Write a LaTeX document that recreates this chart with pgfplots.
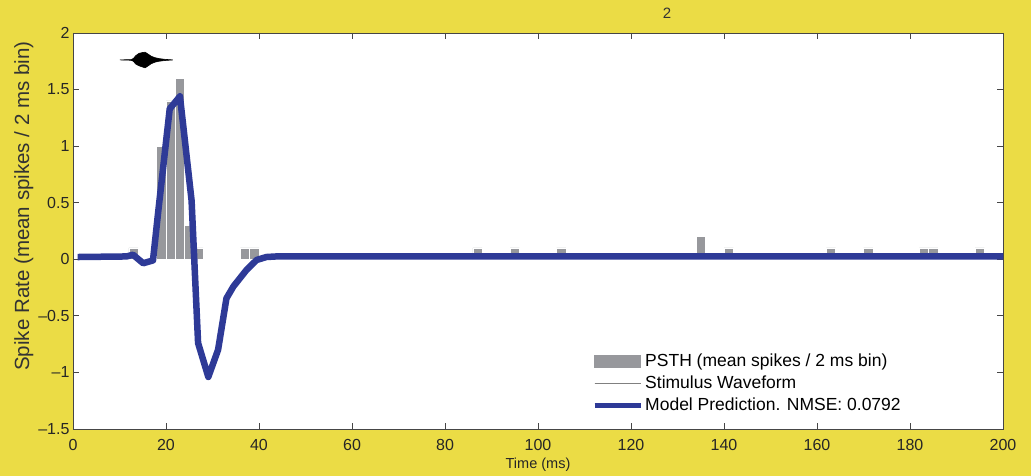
\documentclass[border=0pt]{standalone}
\usepackage{pgfplots}
\pgfplotsset{compat=1.18}
\usepackage{fontspec}
\setmainfont{Liberation Sans}
\definecolor{bgyellow}{RGB}{235,220,69}
\definecolor{bargray}{RGB}{151,152,156}
\definecolor{modelblue}{RGB}{46,58,151}
\definecolor{axgray}{RGB}{70,70,70}
\begin{document}
\begin{tikzpicture}[x=1pt,y=1pt]
\fill[bgyellow] (0,0) rectangle (1031,476);
\begin{axis}[
  at={(73pt,47pt)}, anchor=south west,
  scale only axis, width=930pt, height=396pt,
  xmin=0, xmax=200, ymin=-1.5, ymax=2,
  axis background/.style={fill=white},
  axis line style={axgray, line width=0.9pt},
  tick align=inside, major tick length=6pt,
  tick style={axgray, line width=0.8pt},
  xtick={0,20,...,200},
  ytick={-1.5,-1,-0.5,0,0.5,1,1.5,2},
  yticklabels={--1.5,--1,--0.5,0,0.5,1,1.5,2},
  xtick pos=both, ytick pos=both,
  /pgf/number format/assume math mode=true,
  tick label style={font=\fontsize{16}{19}\selectfont, text=black!85},
  every x tick label/.append style={anchor=north, yshift=-7pt},
  xlabel={Time (ms)},
  xlabel style={font=\fontsize{14.5}{17}\selectfont, at={(axis description cs:0.5,-0.091)}, anchor=center, text=black!85},
  ylabel={Spike Rate (mean spikes / 2 ms bin)},
  ylabel style={font=\fontsize{20.5}{24}\selectfont, at={(axis description cs:-0.053,0.563)}, anchor=center, rotate=0, text=black!80},
  legend style={at={(0.557,0.198)}, anchor=north west, draw=none, fill=white,
    font=\fontsize{17.5}{21}\selectfont, row sep=4pt, inner sep=1pt,
    cells={anchor=west}},
  legend cell align=left,
]
\addplot[ybar, bar width=2, fill=bargray, draw=white, line width=0.6pt,
  legend image code/.code={\fill[bargray] (0pt,-6pt) rectangle (46pt,6pt);}]
  coordinates {
  (13,0.1) (19,1.0) (21,1.4) (23,1.6) (25,0.3) (27,0.1) (37,0.1) (39,0.1)
  (87,0.1) (95,0.1) (105,0.1) (135,0.2) (141,0.1) (163,0.1) (171,0.1)
  (183,0.1) (185,0.1) (195,0.1)
  };
\addlegendentry{PSTH (mean spikes / 2 ms bin)}
\addplot[fill=black, draw=black, line width=0.6pt,
  legend image code/.code={\draw[gray, line width=0.8pt] (0pt,0pt) -- (46pt,0pt);}]
  coordinates {
  (10.1,1.762) (12.5,1.765) (13.0,1.775) (13.5,1.80) (14.2,1.82) (14.9,1.827) (15.5,1.83)
  (16.1,1.815) (16.8,1.795) (17.6,1.782) (18.6,1.773) (19.8,1.767) (21.5,1.762)
  (19.8,1.757) (18.6,1.751) (17.6,1.742) (16.8,1.728) (16.1,1.708) (15.5,1.692)
  (14.9,1.70) (14.2,1.71) (13.5,1.725) (13.0,1.75) (12.5,1.759) (10.1,1.762)
  } -- cycle;
\addlegendentry{Stimulus Waveform}
\addplot[modelblue, line width=6.5pt, line join=round,
  legend image code/.code={\draw[modelblue, line width=5pt] (0pt,0pt) -- (46pt,0pt);}]
  coordinates {
  (1,0.02) (11.5,0.025) (12.9,0.04) (15.1,-0.035) (17.2,-0.01) (18.3,0.41)
  (20.8,1.33) (23.0,1.44) (25.5,0.52) (26.9,-0.74) (29.1,-1.04) (31.2,-0.80)
  (33.0,-0.345) (34.5,-0.24) (37.3,-0.095) (39.5,-0.006) (41.6,0.02) (43.7,0.025)
  (200,0.025)
  };
\addlegendentry{Model Prediction. NMSE: 0.0792}
\end{axis}
\node[font=\fontsize{15}{18}\selectfont, text=black!80] at (667,463) {2};
\end{tikzpicture}
\end{document}
